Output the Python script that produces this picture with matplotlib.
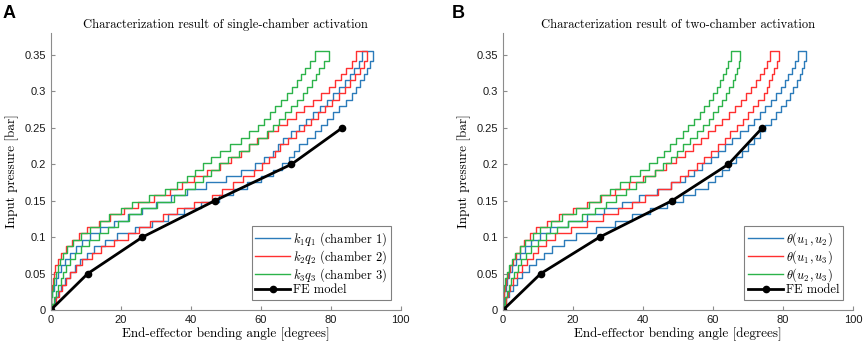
"""Hysteresis characterization of single- and two-chamber activation (staircase loops)"""

import matplotlib

matplotlib.use("Agg")
import matplotlib.pyplot as plt

plt.rcParams["mathtext.fontset"] = "cm"

# pressure levels (bar) shared by every measured branch
PRESSURE = [0, 0.00875, 0.0175, 0.02625, 0.035, 0.04375, 0.0525, 0.06125, 0.07, 0.07875,
            0.0875, 0.09625, 0.105, 0.11375, 0.1225, 0.13125, 0.14, 0.14875, 0.1575, 0.16625,
            0.175, 0.18375, 0.1925, 0.20125, 0.21, 0.21875, 0.2275, 0.23625, 0.245, 0.25375,
            0.2625, 0.27125, 0.28, 0.28875, 0.2975, 0.30625, 0.315, 0.32375, 0.3325, 0.34125, 0.355]

# panel A: single-chamber activation, bending angle (deg) on loading (up) / unloading (down)
K1Q1_UP = [0, 0.5, 1.2, 2, 3, 4.2, 5.5, 7, 8.5, 10.3, 12.5, 15.5, 19, 24, 29, 33.5, 38, 43, 48, 52,
           56, 60, 63.5, 66, 68, 69.5, 71, 73.2, 75.5, 77.3, 79, 80.7, 82.5, 84.3, 86, 87.3, 88.5,
           89.6, 90.5, 91.3, 92]
K1Q1_DOWN = [0, 0.2, 0.5, 1, 1.5, 2.2, 3, 4.2, 5.5, 7.2, 9, 11.3, 14, 18, 22, 26, 30, 34.5, 39, 44.5,
             50, 54.5, 58.5, 61, 63.5, 65, 66.5, 68.8, 71, 73, 75, 77, 79, 80.8, 82.5, 84, 85.5,
             86.8, 88, 89, 90]
K2Q2_UP = [0, 0.7, 1.5, 2.3, 3.2, 4.3, 5.5, 7.2, 9, 11.7, 14.5, 18.2, 22, 25.2, 28.5, 32.2, 36, 41,
           46, 49, 52, 55, 58, 60.3, 62.5, 64, 65.5, 67.8, 70, 72.3, 74.5, 76.5, 78.5, 80.5, 82.5,
           84, 85.5, 87, 88.5, 89.5, 90.5]
K2Q2_DOWN = [0, 0.1, 0.2, 0.4, 0.6, 0.9, 1.2, 2, 3, 4.4, 6, 8.2, 10.5, 13.7, 17, 21, 25, 29.5, 34,
             37.5, 41, 44.8, 48.5, 51.5, 54.5, 56.8, 59, 62, 65, 67.5, 70, 72.5, 75, 77.3, 79.5,
             81.3, 83, 84.5, 86, 87.3, 88.5]
K3Q3_UP = [0, 0.4, 0.9, 1.5, 2.2, 2.9, 3.6, 4.5, 5.5, 7, 8.7, 11, 13.7, 16.4, 19.2, 22.3, 25.7, 30.5,
           35.2, 38.3, 41.2, 43.4, 45.7, 48.2, 50.7, 53.7, 56.7, 59.3, 61.8, 63.5, 65.2, 67, 68.8,
           70.4, 72, 73.3, 74.6, 75.7, 76.8, 78.1, 79.4]
K3Q3_DOWN = [0, 0.1, 0.3, 0.6, 1, 1.5, 2, 2.7, 3.5, 4.8, 6.3, 8.7, 11.3, 14, 16.8, 20, 23.3, 28, 32.8,
             36, 39, 41.2, 43.5, 45.9, 48.3, 51.3, 54.3, 56.8, 59.2, 60.9, 62.6, 64.2, 65.8, 67.4,
             69, 70.3, 71.6, 72.8, 74, 75.5, 77]

# panel B: two-chamber activation
U12_UP = [0, 0.4, 1, 1.8, 2.8, 4, 5.5, 7.5, 9.5, 11.7, 14, 17.3, 21, 26.5, 32, 37, 42, 46.8, 51.5,
          55, 58.5, 60.5, 62.5, 64.5, 66.5, 68.3, 70, 71.8, 73.5, 75, 76.5, 78, 79.5, 80.8, 82, 83,
          84, 84.8, 85.5, 86, 86.5]
U12_DOWN = [0, 0.2, 0.4, 0.8, 1.2, 1.8, 2.5, 3.6, 4.8, 6.3, 8, 10.5, 13.5, 18.7, 24, 29, 34, 39, 44,
            48, 52, 54.5, 57, 59.3, 61.5, 63.5, 65.5, 67.8, 70, 71.8, 73.5, 75, 76.5, 78, 79.5, 80.5,
            81.5, 82.5, 83.5, 84.3, 85]
U13_UP = [0, 0.3, 0.8, 1.4, 2, 3, 4, 5.5, 7, 8.5, 10, 12.3, 15, 19.5, 24, 28.5, 33, 36.8, 40.5, 44.3,
          48, 50.5, 53, 55.3, 57.5, 59.5, 61.5, 63.3, 65, 66.8, 68.5, 70, 71.5, 73, 74.5, 75.3, 76,
          76.8, 77.5, 78.2, 78.8]
U13_DOWN = [0, 0.1, 0.3, 0.6, 0.9, 1.4, 2, 2.8, 3.8, 4.8, 6, 7.6, 9.5, 12.7, 16, 20, 24, 28, 32, 36,
            40, 43.3, 46.5, 49.3, 52, 54.3, 56.5, 58.5, 60.5, 62.5, 64.5, 66.3, 68, 69.5, 71, 72.3,
            73.5, 74.5, 75.5, 76.3, 77]
U23_UP = [0, 0.3, 0.7, 1.2, 1.7, 2.4, 3.2, 4.2, 5.2, 6.6, 8.1, 10.1, 12.3, 15.3, 18.6, 22.5, 26.3,
          29.3, 32.3, 35.2, 38, 40.7, 43.4, 45.7, 47.9, 49.7, 51.5, 53.5, 55.4, 57.1, 58.8, 60.1,
          61.4, 62.6, 63.7, 64.7, 65.6, 66.2, 66.8, 67.3, 67.8]
U23_DOWN = [0, 0.05, 0.1, 0.4, 0.7, 1.1, 1.6, 2.5, 3.4, 4.8, 6.3, 8.5, 10.7, 13.8, 17, 20.8, 24.7,
            27.7, 30.7, 33.5, 36.4, 39.1, 41.8, 44, 46.1, 47.8, 49.5, 51.3, 53, 54.6, 56.2, 57.5,
            58.8, 60, 61.1, 62, 63, 63.7, 64.4, 65.1, 65.8]

# finite-element model points
FE_PRESSURE = [0, 0.05, 0.1, 0.15, 0.2, 0.25]
FE_ANGLE_A = [0, 10.6, 26.2, 46.9, 68.8, 83.3]
FE_ANGLE_B = [0, 10.8, 27.6, 48.3, 64.4, 74.1]

BLUE = "#2b7bba"
RED = "#ff3030"
GREEN = "#2cb34a"
AXIS_GREY = "0.55"


def _loop(ax, up, down, color, label):
    """把一个加载/卸载循环画成阶梯闭环"""

    xs = list(up) + list(down)[::-1]
    ys = list(PRESSURE) + list(PRESSURE)[::-1]
    ax.plot(xs, ys, drawstyle="steps-post", color=color, lw=1.0, label=label)


def _style(ax, title):
    ax.set_xlim(0, 100)
    ax.set_ylim(0, 0.38)
    ax.set_xticks([0, 20, 40, 60, 80, 100])
    ax.set_yticks([0, 0.05, 0.1, 0.15, 0.2, 0.25, 0.3, 0.35])
    ax.set_yticklabels(["0", "0.05", "0.1", "0.15", "0.2", "0.25", "0.3", "0.35"])
    for side in ("top", "right"):
        ax.spines[side].set_visible(False)
    for side in ("left", "bottom"):
        ax.spines[side].set_color(AXIS_GREY)
        ax.spines[side].set_linewidth(0.8)
    ax.tick_params(direction="in", length=3, width=0.8, color=AXIS_GREY,
                   labelsize=8, labelcolor="0.1")
    for lab in ax.get_xticklabels() + ax.get_yticklabels():
        lab.set_fontfamily("Liberation Sans")
    ax.set_title(title, fontfamily="cmr10", fontsize=9, pad=4)
    ax.set_xlabel("End-effector bending angle [degrees]", fontfamily="cmr10", fontsize=9.5, labelpad=2)
    ax.set_ylabel("Input pressure [bar]", fontfamily="cmr10", fontsize=9.5, labelpad=4)


def _legend(ax):
    leg = ax.legend(loc="lower right", prop={"family": "cmr10", "size": 9}, handlelength=2.8,
                    handletextpad=0.2, borderpad=0.3, labelspacing=0.02, fancybox=False,
                    framealpha=1, edgecolor="0.5", borderaxespad=0.8)
    leg.get_frame().set_linewidth(0.8)


fig = plt.figure(figsize=(8.65, 3.47), dpi=100)
ax_a = fig.add_axes([0.0586, 0.1066, 0.4046, 0.798])
ax_b = fig.add_axes([0.5815, 0.1066, 0.4046, 0.798])

_loop(ax_a, K1Q1_UP, K1Q1_DOWN, BLUE, r"$k_1q_1$ (chamber 1)")
_loop(ax_a, K2Q2_UP, K2Q2_DOWN, RED, r"$k_2q_2$ (chamber 2)")
_loop(ax_a, K3Q3_UP, K3Q3_DOWN, GREEN, r"$k_3q_3$ (chamber 3)")
ax_a.plot(FE_ANGLE_A, FE_PRESSURE, color="black", lw=2, marker="o", ms=4.5, label="FE model")
_style(ax_a, "Characterization result of single-chamber activation")
_legend(ax_a)

_loop(ax_b, U12_UP, U12_DOWN, BLUE, r"$\theta(u_1,u_2)$")
_loop(ax_b, U13_UP, U13_DOWN, RED, r"$\theta(u_1,u_3)$")
_loop(ax_b, U23_UP, U23_DOWN, GREEN, r"$\theta(u_2,u_3)$")
ax_b.plot(FE_ANGLE_B, FE_PRESSURE, color="black", lw=2, marker="o", ms=4.5, label="FE model")
_style(ax_b, "Characterization result of two-chamber activation")
_legend(ax_b)

fig.text(0.003, 0.985, "A", fontsize=13, fontweight="bold", fontfamily="Liberation Sans", va="top")
fig.text(0.5225, 0.985, "B", fontsize=13, fontweight="bold", fontfamily="Liberation Sans", va="top")

fig.savefig("out.png", dpi=100)
